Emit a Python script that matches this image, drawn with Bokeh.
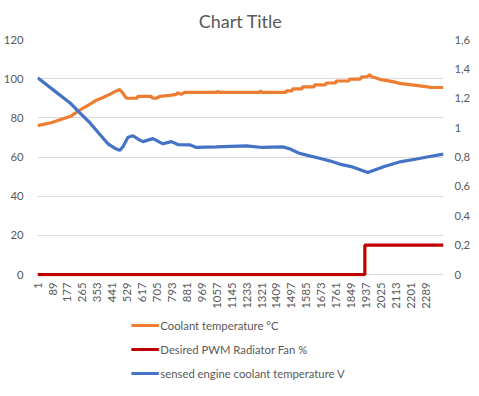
import math
from bokeh.plotting import figure
from bokeh.layouts import column, row
from bokeh.models import (Range1d, LinearAxis, FixedTicker, CustomJSTickFormatter,
                          Legend, LegendItem, Spacer)
from bokeh.embed import file_html
from bokeh.resources import INLINE

# ---- data ----
x_tick_labels = [1, 89, 177, 265, 353, 441, 529, 617, 705, 793, 881, 969, 1057, 1145,
                 1233, 1321, 1409, 1497, 1585, 1673, 1761, 1849, 1937, 2025, 2113, 2201, 2289]
left_ticks = [0, 20, 40, 60, 80, 100, 120]
right_ticks = [0, 0.2, 0.4, 0.6, 0.8, 1.0, 1.2, 1.4, 1.6]
n_samples = 2393

coolant_x = [1, 80, 151, 200, 250, 300, 348, 390, 426, 460, 485, 500, 525, 588, 591, 670, 679,
             700, 721, 780, 820, 827, 848, 868, 1058, 1062, 1068, 1312, 1315, 1320, 1464, 1467,
             1501, 1504, 1560, 1563, 1631, 1634, 1699, 1702, 1758, 1761, 1836, 1839, 1905, 1908,
             1945, 1957, 1970, 1987, 2026, 2093, 2144, 2232, 2320, 2393]
coolant_y = [76, 77.5, 79.5, 81, 84, 86.5, 89, 90.5, 92, 93.5, 94.5, 93, 90, 90, 91, 91, 90,
             90, 91, 91.5, 92, 92.8, 92, 93, 93, 93.8, 93, 93, 94, 93, 93, 93.8,
             93.8, 94.8, 94.8, 95.8, 95.8, 96.8, 96.8, 97.8, 97.8, 98.8, 98.8, 99.8, 99.8, 100.8,
             101, 102, 101, 100.6, 99.5, 98.5, 97.5, 96.6, 95.6, 95.5]

fan_x = [1, 1930, 1930, 2393]
fan_y = [0, 0, 0.2, 0.2]

sensor_x = [1, 112, 191, 250, 308, 367, 416, 456, 485, 504, 534, 563, 603, 622, 681, 740, 789,
            828, 897, 937, 1054, 1231, 1327, 1445, 1486, 1545, 1604, 1663, 1722, 1781, 1849,
            1947, 2045, 2144, 2227, 2320, 2393]
sensor_y = [1.34, 1.24, 1.17, 1.10, 1.035, 0.955, 0.89, 0.86, 0.845, 0.87, 0.935, 0.945, 0.915,
            0.905, 0.925, 0.89, 0.905, 0.885, 0.883, 0.865, 0.869, 0.876, 0.865, 0.869, 0.856,
            0.825, 0.808, 0.792, 0.774, 0.752, 0.735, 0.694, 0.735, 0.769, 0.785, 0.805, 0.82]

series_names = ["Coolant temperature °C", "Desired PWM Radiator Fan %",
                "sensed engine coolant temperature V"]
series_colors = ["#ED7D31", "#C00000", "#4472C4"]

FONT = "Lato"
TXT = "#595959"
FS = "11.3px"
LEFT_MAX, RIGHT_MAX = 120, 1.6
pad = 1.0  # a little room below zero so the zero line is not clipped


def style_axis(ax, standoff):
    ax.axis_line_color = None
    ax.major_tick_line_color = None
    ax.minor_tick_line_color = None
    ax.major_tick_out = 0
    ax.major_tick_in = 0
    ax.minor_tick_out = 0
    ax.minor_tick_in = 0
    ax.major_label_text_color = TXT
    ax.major_label_text_font = FONT
    ax.major_label_text_font_size = FS
    ax.major_label_standoff = standoff


p = figure(frame_width=406, frame_height=237, output_backend="svg", toolbar_location=None,
           x_range=Range1d(0.5, n_samples + 0.5), y_range=Range1d(-pad, LEFT_MAX),
           min_border_left=30, min_border_right=24, min_border_top=39, min_border_bottom=32)
p.extra_y_ranges = {"right": Range1d(-pad * RIGHT_MAX / LEFT_MAX, RIGHT_MAX)}
p.outline_line_color = None

p.title.text = "Chart Title"
p.title.align = "center"
p.title.vertical_align = "top"
p.title.text_font = FONT
p.title.text_font_size = "18px"
p.title.text_font_style = "normal"
p.title.text_color = TXT
p.title.standoff = 12

p.xgrid.grid_line_color = None
p.ygrid.grid_line_color = "#D9D9D9"
p.ygrid.ticker = FixedTicker(ticks=left_ticks)

xa = p.xaxis[0]
xa.ticker = FixedTicker(ticks=x_tick_labels)
xa.major_label_orientation = math.pi / 2
style_axis(xa, 6)

ya = p.yaxis[0]
ya.ticker = FixedTicker(ticks=left_ticks)
style_axis(ya, 14)

ra = LinearAxis(y_range_name="right", ticker=FixedTicker(ticks=right_ticks),
                formatter=CustomJSTickFormatter(
                    code="return (Math.round(tick*10)/10).toString().replace('.', ',');"))
style_axis(ra, 11)
p.add_layout(ra, "right")

r1 = p.line(coolant_x, coolant_y, line_color=series_colors[0], line_width=3.2)
r2 = p.line(fan_x, fan_y, line_color=series_colors[1], line_width=3.2, y_range_name="right")
r3 = p.line(sensor_x, sensor_y, line_color=series_colors[2], line_width=3.2, y_range_name="right")

# legend lives in its own small figure below the chart
nan = float("nan")
lg = figure(width=451, height=76, output_backend="svg", toolbar_location=None,
            x_range=Range1d(0, 1), y_range=Range1d(0, 1),
            min_border=0, x_axis_type=None, y_axis_type=None)
lg.outline_line_color = None
lg.xgrid.grid_line_color = None
lg.ygrid.grid_line_color = None
lr = [lg.line([nan], [nan], line_color=c, line_width=3) for c in series_colors]
legend = Legend(items=[LegendItem(label=n, renderers=[r]) for n, r in zip(series_names, lr)],
                orientation="vertical", location="center",
                label_text_font=FONT, label_text_font_size=FS, label_text_color=TXT,
                glyph_width=28, glyph_height=16, label_height=16, spacing=8,
                padding=0, margin=0, label_standoff=2,
                border_line_color=None, background_fill_alpha=0)
lg.add_layout(legend, "center")

layout = column(p, row(Spacer(width=12, height=76), lg, spacing=0), spacing=0)
open("out.html", "w").write(file_html(layout, INLINE))
